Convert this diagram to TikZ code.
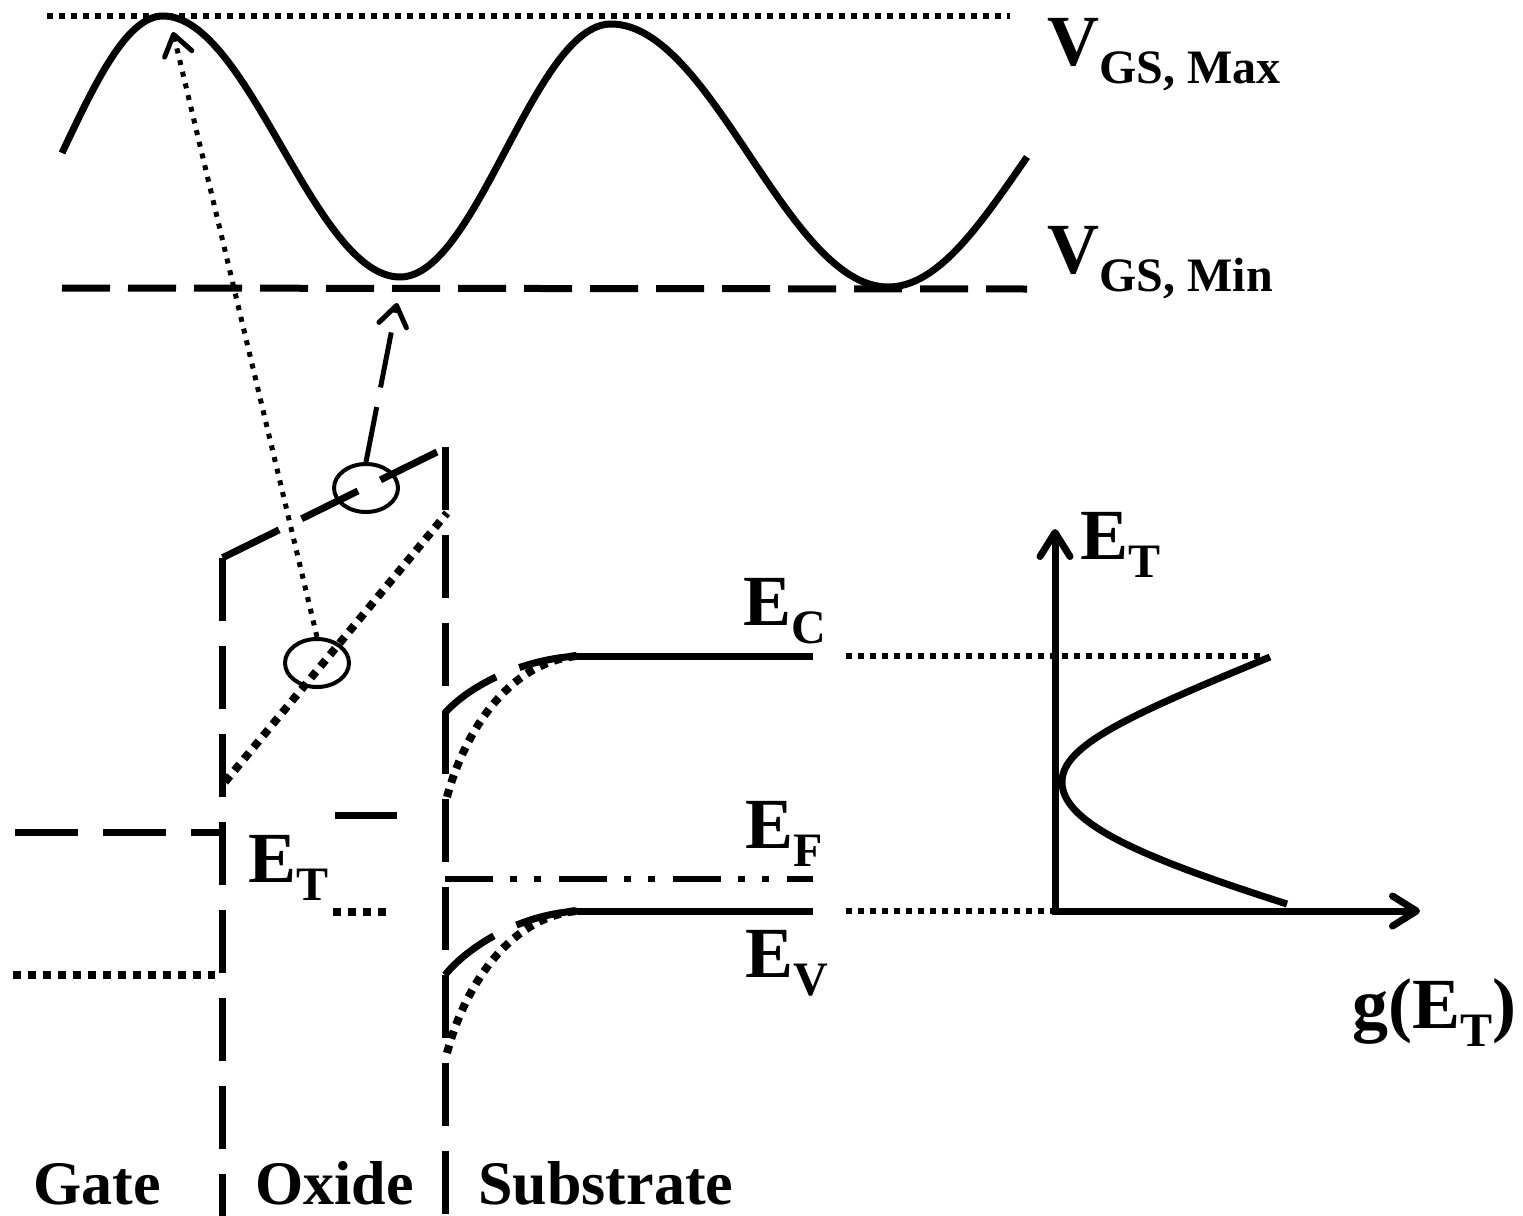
\documentclass[tikz,border=0pt]{standalone}
\usepackage{fontspec}
\setmainfont{Liberation Serif}
\usetikzlibrary{shapes.geometric, arrows.meta}
\newcommand{\lowsub}[1]{\raisebox{-9pt}{\fontsize{24}{24}\selectfont #1}}
\tikzset{
bandline/.style={line width=3.5pt},
longdash/.style={
       line width=3.5pt,
       dash pattern=on 31.5pt off 12.5pt,
       },
mindash/.style={line width=3.5pt, dash pattern=on 24pt off 9pt},
bigdots/.style={line width=4pt, dash pattern=on 4pt off 3.5pt},
smalldots/.style={line width=3pt, dash pattern=on 3pt off 3pt},
fermiline/.style={
       line width=3pt,
       dash pattern=on 24pt off 8.5pt on 3.5pt off 8.5pt on 3.5pt off 9pt,
       },
trap/.style={
       ellipse,
       draw,
       line width=2pt,
       minimum width=32pt,
       minimum height=24pt,
       inner sep=0pt,
       },
traphop/.style={line width=2.5pt, -{Straight Barb[round, length=10pt, width=14pt]}},
gaxis/.style={
       line width=3.5pt,
       {Straight Barb[round, length=12pt, width=15pt]}-{Straight Barb[round, length=12pt, width=15pt]},
       },
levellabel/.style={font=\fontsize{36}{36}\selectfont\bfseries, inner sep=0pt, anchor=base west},
regionlabel/.style={font=\fontsize{31}{31}\selectfont\bfseries, inner sep=0pt, anchor=base west},
}

\begin{document}
\begin{tikzpicture}[x=0.5pt, y=-0.5pt]
      \useasboundingbox (0,0) rectangle (1523,1216);

            % gate voltage
            \draw[smalldots] (47,16) -- (1010,16);
            \draw[mindash] (62,288) -- (1027,289);
            \draw[bandline] (62,153) .. controls (96,81) and (127,16) .. (163,16)
                  .. controls (249,16) and (314,277) .. (400,277)
                  .. controls (477,277) and (534,24) .. (611,24)
                  .. controls (712,24) and (787,287) .. (888,287)
                  .. controls (938,287) and (980,225) .. (1027,157);
            \node[levellabel] (vmax) at (1047,65) {V\lowsub{GS, Max}};
            \node[levellabel] (vmin) at (1047,273) {V\lowsub{GS, Min}};

            % gate and oxide
            \draw[longdash] (15,832) -- (222,832);
            \draw[bigdots] (13,975) -- (215,975);
            \draw[longdash] (437,452) -- (222,558);
            \draw[longdash] (222,558) -- (222,1216);
            \draw[bigdots] (225,782) -- (447,513);
            \draw[longdash] (445,447) -- (445,1216);
            \draw[bandline] (335,815) -- (397,815);
            \draw[bigdots] (333,912) -- (392,912);
            \node[levellabel] (etox) at (248,882) {E\lowsub{T}};

            % traps and where they go
            \node[trap] (trapup) at (366,488) {};
            \node[trap] (traplow) at (317,663) {};
            \coordinate (tipmax) at (173,32);
            \coordinate (tipmin) at (397,303);
            \draw[traphop, dash pattern=on 2.5pt off 3.5pt] (traplow.north) -- (tipmax);
            \draw[traphop, dash pattern=on 28pt off 10pt] (trapup.north) -- (tipmin);

            % substrate bands
            \draw[longdash] (445,713) .. controls (465,690) and (515,660) .. (577,656);
            \draw[bandline] (577,656) -- (813,656);
            \draw[bigdots] (447,797) .. controls (465,730) and (510,662) .. (577,656);
            \draw[fermiline] (445,879) -- (813,879);
            \draw[longdash] (445,975) .. controls (465,950) and (515,915) .. (577,911);
            \draw[bandline] (577,911) -- (813,911);
            \draw[bigdots] (447,1053) .. controls (465,985) and (510,917) .. (577,911);
            \foreach \n/\x/\y/\s in {ec/743/625/C, ef/745/848/F, ev/745/977/V} {
                \node[levellabel] (\n) at (\x,\y) {E\lowsub{\s}};
            }

            % trap density
            \draw[smalldots] (846,656) -- (1265,656);
            \draw[smalldots] (846,911) -- (1053,911);
            \coordinate (ytop) at (1055,529);
            \coordinate (origin) at (1055,911);
            \coordinate (xend) at (1420,911);
            \draw[gaxis] (ytop) -- (origin) -- (xend);
            \draw[bandline] (1270,657) .. controls (1130,715) and (1062,745) .. (1062,782)
                  .. controls (1062,825) and (1150,860) .. (1287,904);
            \node[levellabel] (etaxis) at (1080,559) {E\lowsub{T}};
            \node[levellabel] (gofet) at (1352,1028) {g(E\lowsub{T})};

            % regions
            \foreach \n/\x/\l in {gate/33/Gate, oxide/255/Oxide, substrate/478/Substrate} {
                \node[regionlabel] (\n) at (\x,1204) {\l};
            }
    \end{tikzpicture}
\end{document}
